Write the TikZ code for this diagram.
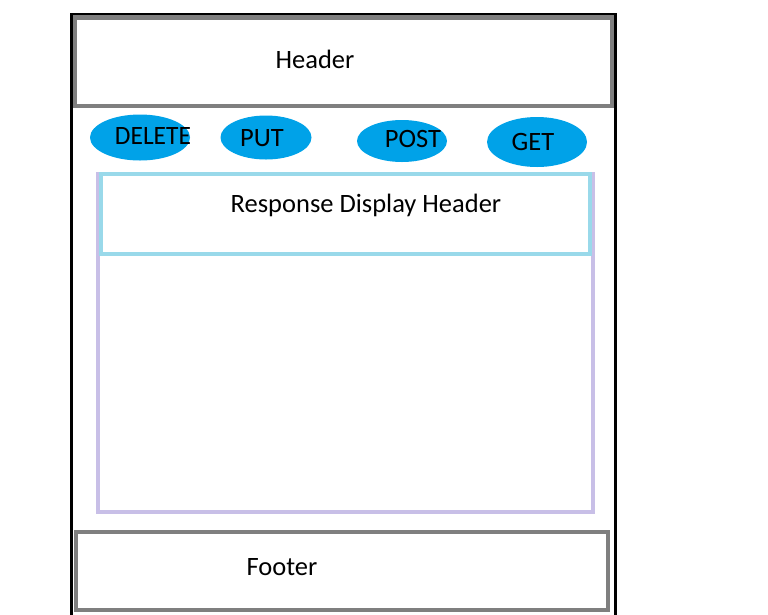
\documentclass[tikz,border=0pt]{standalone}
\usepackage{fontspec}
\setmainfont{Carlito}
\usetikzlibrary{shapes.geometric}
\definecolor{paintgray}{RGB}{127,127,127}
\definecolor{lavender}{RGB}{200,191,231}
\definecolor{lightturq}{RGB}{153,217,234}
\definecolor{turq}{RGB}{0,162,232}
\tikzset{
  graybox/.style={draw=paintgray,line width=4.5pt,rectangle},
  method/.style={ellipse,fill=turq,draw=none,inner sep=0pt},
  lbl/.style={inner sep=0pt,font=\fontsize{26.5}{30}\selectfont,text=black},
}
\begin{document}
\begin{tikzpicture}[x=1pt,y=-1pt]
\useasboundingbox (0,0) rectangle (768,614);
\begin{scope}
\clip (0,0) rectangle (768,614);
% outer frame
\draw[line width=3pt,black] (71.5,630) -- (71.5,14) -- (615.5,14) -- (615.5,630);
\end{scope}
% header
\draw[graybox] (75,17.5) rectangle (612,106);
\node[lbl] (hdr) at (315,59) {Header};
% methods
\node[method,minimum width=100pt,minimum height=46pt] (edel) at (140,137.5) {};
\node[method,minimum width=91pt,minimum height=44pt] (eput) at (266,137.5) {};
\node[method,minimum width=90pt,minimum height=42pt] (epost) at (402,141) {};
\node[method,minimum width=100pt,minimum height=50pt] (eget) at (537,142) {};
\node[lbl,xscale=0.96] (tdel) at (153,136) {DELETE};
\node[lbl] (tput) at (262,138) {PUT};
\node[lbl] (tpost) at (413,139) {POST};
\node[lbl] (tget) at (533,142) {GET};
% response area
\draw[draw=lavender,line width=4pt] (98,174) rectangle (593,512);
\draw[draw=lightturq,line width=4pt] (101,174) rectangle (590,254);
\node[lbl] (rdh) at (366,205) {Response Display Header};
% footer
\draw[graybox] (76,532) rectangle (608,610);
\node[lbl] (ftr) at (282,567) {Footer};
\end{tikzpicture}
\end{document}
